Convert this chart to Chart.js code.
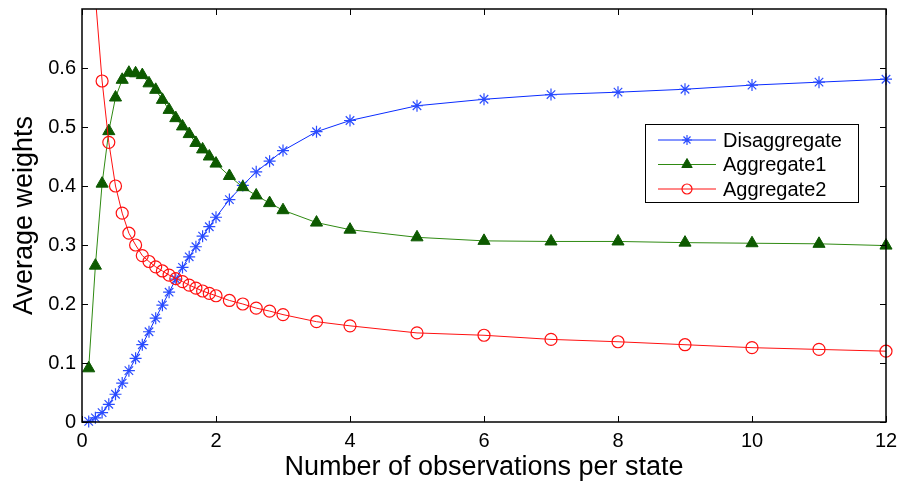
<!DOCTYPE html>
<html>
<head>
<meta charset="utf-8">
<script src="https://cdn.jsdelivr.net/npm/chart.js@4/dist/chart.umd.min.js"></script>
<style>
  html, body { margin: 0; padding: 0; background: #fff; }
  #wrap { width: 902px; height: 481px; }
</style>
</head>
<body>
<div id="wrap"><canvas id="weightsChart" width="902" height="481"></canvas></div>
<script>
// observations per state (x values)
const obsPerState = [0.1, 0.2, 0.3, 0.4, 0.5, 0.6, 0.7, 0.8, 0.9, 1.0,
  1.1, 1.2, 1.3, 1.4, 1.5, 1.6, 1.7, 1.8, 1.9, 2.0,
  2.2, 2.4, 2.6, 2.8, 3.0, 3.5, 4, 5, 6, 7, 8, 9, 10, 11, 12];

const disaggregate = [0.001, 0.007, 0.016, 0.030, 0.047, 0.066, 0.087, 0.108, 0.131, 0.153,
  0.176, 0.198, 0.220, 0.242, 0.262, 0.280, 0.297, 0.315, 0.331, 0.347,
  0.377, 0.401, 0.424, 0.442, 0.460, 0.492, 0.511, 0.536, 0.547, 0.555, 0.559, 0.564, 0.571, 0.576, 0.581];

const aggregate1 = [0.091, 0.265, 0.404, 0.493, 0.550, 0.580, 0.592, 0.591, 0.588, 0.574,
  0.563, 0.546, 0.529, 0.515, 0.501, 0.488, 0.473, 0.462, 0.450, 0.438,
  0.417, 0.398, 0.384, 0.371, 0.359, 0.338, 0.326, 0.313, 0.307, 0.306, 0.306, 0.304, 0.303, 0.302, 0.299];

const aggregate2 = [1.10, 0.72, 0.578, 0.474, 0.400, 0.354, 0.320, 0.300, 0.282, 0.272,
  0.263, 0.256, 0.249, 0.243, 0.238, 0.232, 0.227, 0.222, 0.218, 0.214,
  0.206, 0.200, 0.193, 0.188, 0.182, 0.170, 0.163, 0.151, 0.147, 0.140, 0.136, 0.131, 0.126, 0.123, 0.120];

const xTicks = [0, 2, 4, 6, 8, 10, 12];
const yTicks = [0, 0.1, 0.2, 0.3, 0.4, 0.5, 0.6];

const FONT = "'Liberation Sans', Arial, sans-serif";

function toPoints(ys) {
  return ys.map((y, i) => ({ x: obsPerState[i], y: y }));
}

// no extra room for overflowing tick labels
function noScalePadding(s) {
  s.paddingTop = 0;
  s.paddingBottom = 0;
  s.paddingLeft = 0;
  s.paddingRight = 0;
}

// matlab style box with inward ticks
const boxTicks = {
  id: "boxTicks",
  afterDatasetsDraw(chart) {
    const { ctx, chartArea: a, scales } = chart;
    const len = 6;
    ctx.save();
    ctx.strokeStyle = "#000";
    ctx.lineWidth = 1;
    ctx.beginPath();
    xTicks.forEach(v => {
      const px = Math.round(scales.x.getPixelForValue(v)) + 0.5;
      ctx.moveTo(px, a.bottom); ctx.lineTo(px, a.bottom - len);
      ctx.moveTo(px, a.top); ctx.lineTo(px, a.top + len);
    });
    yTicks.forEach(v => {
      const py = Math.round(scales.y.getPixelForValue(v)) + 0.5;
      ctx.moveTo(a.left, py); ctx.lineTo(a.left + len, py);
      ctx.moveTo(a.right, py); ctx.lineTo(a.right - len, py);
    });
    ctx.stroke();
    ctx.lineWidth = 1.5;
    ctx.strokeRect(a.left, a.top, a.right - a.left, a.bottom - a.top);
    ctx.restore();
  }
};

// legend box inside the plot (upper right)
const boxLegend = {
  id: "boxLegend",
  afterDraw(chart) {
    const { ctx, chartArea: a } = chart;
    const bx = a.right - 241, by = a.top + 115, bw = 213, bh = 78;
    ctx.save();
    ctx.fillStyle = "#fff";
    ctx.fillRect(bx, by, bw, bh);
    ctx.strokeStyle = "#000";
    ctx.lineWidth = 1;
    ctx.strokeRect(bx + 0.5, by + 0.5, bw, bh);
    ctx.font = "20px " + FONT;
    ctx.textBaseline = "middle";
    chart.data.datasets.forEach((ds, i) => {
      const y = by + 16 + i * 24.5;
      ctx.strokeStyle = ds.borderColor;
      ctx.lineWidth = 1;
      ctx.beginPath();
      ctx.moveTo(bx + 13, y); ctx.lineTo(bx + 71, y);
      ctx.stroke();
      ctx.fillStyle = ds.pointBackgroundColor;
      ctx.strokeStyle = ds.pointBorderColor;
      ctx.lineWidth = ds.pointBorderWidth;
      Chart.helpers.drawPoint(ctx, {
        pointStyle: ds.pointStyle,
        radius: ds.pointRadius - 1,
        rotation: 0,
        borderWidth: ds.pointBorderWidth
      }, bx + 42, y);
      ctx.fillStyle = "#000";
      ctx.fillText(ds.label, bx + 78, y + 1);
    });
    ctx.restore();
  }
};

const data = {
  datasets: [
    {
      label: "Disaggregate",
      data: toPoints(disaggregate),
      borderColor: "#0a2cff",
      borderWidth: 1,
      pointStyle: "star",
      pointRadius: 6,
      pointBorderColor: "#2a4cff",
      pointBackgroundColor: "#2a4cff",
      pointBorderWidth: 1.2,
      order: 2,
    },
    {
      label: "Aggregate1",
      data: toPoints(aggregate1),
      borderColor: "#2f8a12",
      borderWidth: 1,
      pointStyle: "triangle",
      pointRadius: 7,
      pointBorderColor: "#0d5a00",
      pointBackgroundColor: "#0d5a00",
      pointBorderWidth: 1,
      order: 1,
    },
    {
      label: "Aggregate2",
      data: toPoints(aggregate2),
      borderColor: "#ff1010",
      borderWidth: 1,
      pointStyle: "circle",
      pointRadius: 6,
      pointBorderColor: "#ff1010",
      pointBackgroundColor: "rgba(255,255,255,0)",
      pointBorderWidth: 1.2,
      order: 0,
    },
  ],
};

const config = {
  type: "line",
  data: data,
  options: {
    responsive: false,
    animation: false,
    events: [],
    layout: {
      padding: { left: 0, right: 16, top: 9, bottom: 0 },
    },
    elements: {
      line: { tension: 0 },
    },
    datasets: {
      line: { clip: { left: 12, right: 12, top: 0, bottom: 12 } },
    },
    scales: {
      x: {
        type: "linear",
        min: 0,
        max: 12,
        grid: { display: false, drawTicks: false },
        border: { display: false },
        afterBuildTicks: (s) => { s.ticks = xTicks.map(v => ({ value: v })); },
        afterFit: (s) => { s.height = 59; noScalePadding(s); },
        ticks: {
          color: "#000",
          padding: 7,
          font: { family: FONT, size: 20 },
          callback: (v) => String(v),
        },
        title: {
          display: true,
          text: "Number of observations per state",
          color: "#000",
          font: { family: FONT, size: 27, lineHeight: 1 },
          padding: { top: 0, bottom: 0 },
        },
      },
      y: {
        min: 0,
        max: 0.7,
        grid: { display: false, drawTicks: false },
        border: { display: false },
        afterBuildTicks: (s) => { s.ticks = yTicks.map(v => ({ value: v })); },
        afterFit: (s) => { s.width = 82; noScalePadding(s); },
        ticks: {
          color: "#000",
          padding: 6,
          font: { family: FONT, size: 20 },
          callback: (v) => String(Math.round(v * 10) / 10),
        },
        title: {
          display: true,
          text: "Average weights",
          color: "#000",
          font: { family: FONT, size: 27 },
          padding: { top: 8, bottom: 0 },
        },
      },
    },
    plugins: {
      legend: { display: false },
      tooltip: { enabled: false },
    },
  },
  plugins: [boxTicks, boxLegend],
};

const ctx = document.getElementById("weightsChart").getContext("2d");
let myChart = new Chart(ctx, config);
</script>
</body>
</html>
